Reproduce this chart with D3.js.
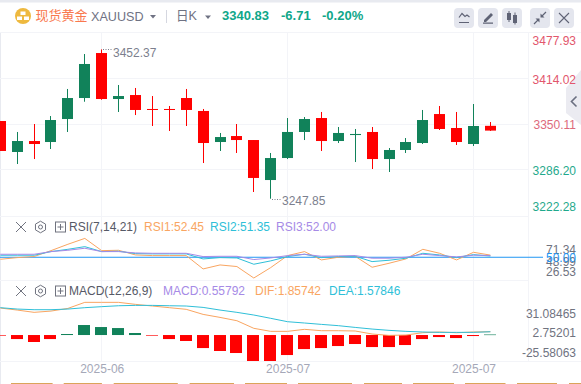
<!DOCTYPE html>
<html>
<head>
<meta charset="utf-8">
<script src="https://cdn.jsdelivr.net/npm/d3@7"></script>
<style>
  html, body { margin: 0; padding: 0; background: #fff; overflow: hidden; }
  svg { display: block; font-family: "Liberation Sans", "Noto Sans CJK SC", sans-serif; }
</style>
</head>
<body>
<div id="chart"></div>
<script>
const openPrices = [3354.3,3310.8,3326.2,3324.8,3357.1,3386.6,3449.8,3385.2,3390.8,3371.2,3371.2,3386.6,3368.4,3324.8,3333.2,3327.6,3271.4,3302.3,3338.9,3358.5,3326.2,3334.6,3338.9,3300.9,3313.6,3323.4,3364.1,3344.5,3322.0,3347.54];
const closePrices = [3312.2,3326.2,3322.0,3355.7,3386.6,3434.4,3385.2,3389.4,3369.8,3369.8,3369.8,3369.8,3323.4,3331.8,3327.6,3274.3,3302.3,3338.9,3357.1,3326.2,3337.5,3336.1,3300.9,3313.6,3324.8,3355.7,3343.1,3324.8,3347.3,3340.83];
const highPrices = [3354.3,3338.9,3350.1,3361.3,3399.3,3448.4,3454.9,3404.9,3400.7,3389.4,3375.4,3399.3,3371.2,3337.5,3350.1,3327.6,3309.4,3358.5,3359.9,3367.0,3345.9,3343.1,3345.9,3316.4,3330.4,3369.8,3375.4,3367.0,3378.2,3352.9];
const lowPrices = [3312.2,3293.9,3300.9,3315.0,3338.9,3381.4,3384.2,3367.0,3362.7,3347.3,3340.3,3347.3,3295.3,3312.2,3309.4,3254.6,3245.2,3300.9,3327.6,3312.2,3323.4,3296.7,3286.9,3282.7,3309.4,3322.0,3341.7,3320.6,3319.2,3340.3];

const rsi1 = [47.7,49.6,50.8,57.5,64.7,71.34,57.5,57.9,52.6,51.9,51.9,51.9,36.8,41.3,39.5,26.53,38.3,51.9,56.4,47.0,50.0,51.1,38.7,43.2,48.1,59.0,54.5,47.0,55.6,52.45];
const rsi2 = [52.3,52.3,52.3,56.4,59.0,62.0,56.4,56.8,54.1,53.8,53.8,53.8,48.1,49.6,49.2,42.1,45.9,50.8,53.4,49.6,50.8,51.1,45.1,46.6,48.9,54.5,52.6,49.6,53.0,51.35];
const rsi3 = [53.4,53.4,53.4,56.4,57.9,60.2,56.4,56.4,54.9,54.5,54.5,54.5,50.8,51.1,51.1,47.4,49.2,51.9,53.4,51.1,51.5,51.9,48.9,48.9,50.0,53.4,51.9,50.4,52.3,52.0];

const macdHist = [-0.7,-4.4,-7.6,-4.4,1.1,10.9,8.7,7.6,2.2,-0.7,-4.4,-6.5,-14.2,-17.4,-19.6,-28.3,-28.3,-21.8,-15.3,-14.2,-12.0,-9.8,-13.1,-13.1,-10.9,-4.4,-2.2,-3.3,-1.1,0.56];
const difLine = [29.4,27.2,24.7,26.1,29.0,35.6,35.6,35.6,33.4,31.6,29.8,28.0,22.5,19.2,15.6,7.3,4.0,4.0,6.2,4.7,4.7,4.4,1.1,-0.4,0.0,2.5,3.3,2.5,3.3,3.6];
const deaLine = [29.8,28.3,27.6,27.6,28.3,29.8,30.9,31.9,32.3,32.3,31.9,31.6,30.1,27.2,24.7,21.8,18.2,14.5,13.1,11.6,10.2,8.3,6.5,5.1,4.0,3.3,2.9,2.9,2.9,3.6];

const priceTicks = [3477.93,3414.02,3350.11,3286.20,3222.28];
const rsiTicks = [71.34,48.99,26.53,50.00];
const macdTicks = [31.08465,2.75201,-25.58063];
const monthTickIdx = [6,17,28];
const monthTickLabels = ["2025-06","2025-07","2025-07"];
const footerSegments = [[11,52.6],[63.7,101.9],[113.7,177.8],[189.6,234],[245,287],[298,352],[364,402],[413,454],[465,505.5],[517,557],[569,581]];

const W = 581, H = 384, axisX = 528.5, labelRight = 576;
const red = "#ff0000", green = "#11825a", gridCol = "#f3f4f8";
const orange = "#f9a561", cyan = "#2fbfd8", purple = "#a68ae6", blue = "#2196f3";

const svg = d3.select("#chart").append("svg").attr("width", W).attr("height", H);

const x = d3.scaleLinear().domain([0, 29]).range([0.3, 490.4]);
const priceY = d3.scaleLinear().domain([3477.93, 3222.28]).range([33, 215]);
const rsiY = d3.scaleLinear().domain([71.34, 26.53]).range([238.4, 278]);
const macdY = d3.scaleLinear().domain([31.08, -28.3]).range([306.5, 361]);
const idx = d3.range(openPrices.length);

// frame
svg.append("rect").attr("width", W).attr("height", 2.5).attr("fill", "#e8eaf0");
svg.append("rect").attr("y", 33).attr("width", 1).attr("height", H - 33).attr("fill", "#e8eaf0");
[32.5, 216.5, 280.5, 361.5].forEach(yy => {
  svg.append("line").attr("x1", 0).attr("x2", yy === 32.5 || yy === 361.5 ? W : axisX)
    .attr("y1", yy).attr("y2", yy).attr("stroke", gridCol);
});
svg.append("line").attr("x1", axisX).attr("x2", axisX).attr("y1", 33).attr("y2", 361).attr("stroke", gridCol);

// collapse tab
svg.append("path").attr("d", "M566,88L581,70V125L566,113Z").attr("fill", "#ebebf1");
svg.append("path").attr("d", "M576.5,96.5L571.5,101.5L576.5,106.5").attr("fill", "none").attr("stroke", "#6b6f80").attr("stroke-width", 1.6);

// vertical grid + month labels
const xAxis = d3.axisBottom(x).tickValues(monthTickIdx).tickFormat((d, i) => monthTickLabels[i]).tickSize(0);
svg.append("g").attr("transform", "translate(0,362)").call(xAxis)
  .call(g => g.select(".domain").remove())
  .call(g => g.selectAll("text").attr("fill", "#a5a8b8").style("font-size", "12px").style("font-family", "inherit").attr("y", 2));
svg.append("g").selectAll("line").data(monthTickIdx).join("line")
  .attr("x1", d => Math.floor(x(d)) + 0.5).attr("x2", d => Math.floor(x(d)) + 0.5)
  .attr("y1", 33).attr("y2", 361).attr("stroke", gridCol);

// price grid
svg.append("g").selectAll("line").data(priceTicks.slice(1, 4)).join("line")
  .attr("x1", 0).attr("x2", axisX)
  .attr("y1", d => Math.round(priceY(d)) + 0.5).attr("y2", d => Math.round(priceY(d)) + 0.5)
  .attr("stroke", gridCol);

function drawAxis(scale, values, lo, hi, shift, fmt, col) {
  svg.append("g").attr("transform", `translate(${labelRight},0)`)
    .call(d3.axisRight(scale).tickValues(values).tickSize(0).tickFormat(fmt))
    .call(g => g.select(".domain").remove())
    .call(g => g.selectAll("text")
      .attr("x", 0).attr("text-anchor", "end")
      .attr("y", d => Math.min(hi, Math.max(lo, scale(d))) - scale(d) + shift(d))
      .attr("fill", col)
      .style("font-size", "12px").style("font-family", "inherit"));
}
drawAxis(priceY, priceTicks, 39.5, 206, () => 1, d => d.toFixed(2), d => d > 3400 ? "#e2566c" : d > 3300 ? "#dd6a7c" : "#1fa98c");

// candles
const candles = svg.append("g");
candles.selectAll(".wick").data(idx).join("rect")
  .attr("x", i => Math.floor(x(i))).attr("width", 1)
  .attr("y", i => priceY(highPrices[i]))
  .attr("height", i => priceY(lowPrices[i]) - priceY(highPrices[i]))
  .attr("fill", i => closePrices[i] < openPrices[i] ? red : green);
candles.selectAll(".body").data(idx).join("rect")
  .attr("x", i => Math.floor(x(i)) - 5).attr("width", 11)
  .attr("y", i => priceY(Math.max(openPrices[i], closePrices[i])))
  .attr("height", i => Math.max(1, Math.abs(priceY(openPrices[i]) - priceY(closePrices[i]))))
  .attr("fill", i => closePrices[i] < openPrices[i] ? red : green);

// high / low notes
const notes = [{ i: 6, p: highPrices[6], t: "3452.37" }, { i: 16, p: lowPrices[16], t: "3247.85" }];
notes.forEach(n => {
  const nx = Math.floor(x(n.i)) + 1, ny = Math.round(priceY(n.p)) + 0.5;
  svg.append("line").attr("x1", nx + 1).attr("x2", nx + 10).attr("y1", ny).attr("y2", ny)
    .attr("stroke", "#7c7f8e").attr("stroke-dasharray", "1,1.5");
  svg.append("text").attr("x", nx + 11).attr("y", ny + (n.i === 6 ? 7 : 5))
    .attr("fill", "#7c7f8e").style("font-size", "12px").text(n.t);
});

// RSI
svg.append("line").attr("x1", 0).attr("x2", 543).attr("y1", rsiY(50)).attr("y2", rsiY(50))
  .attr("stroke", blue).attr("stroke-width", 1);
const rsiLine = d3.line().x((d, i) => x(i)).y(d => rsiY(d));
[[rsi1, orange], [rsi2, cyan], [rsi3, purple]].forEach(([vals, col]) => {
  svg.append("path").datum(vals).attr("d", rsiLine).attr("fill", "none").attr("stroke", col).attr("stroke-width", 1);
});
// 48.99 sits a little under the 50 line label in the original
drawAxis(rsiY, rsiTicks, 249.5, 271.5, d => d === 48.99 ? 3.5 : 0.5, d => d.toFixed(2), d => d === 50 ? blue : "#70737f");

// MACD
svg.append("g").selectAll("rect").data(macdHist).join("rect")
  .attr("x", (d, i) => Math.floor(x(i)) - 6).attr("width", 12)
  .attr("y", d => Math.min(macdY(d), macdY(0)))
  .attr("height", d => Math.max(0.6, Math.abs(macdY(d) - macdY(0))))
  .attr("fill", d => d < 0 ? red : green);
const macdLine = d3.line().x((d, i) => x(i)).y(d => macdY(d));
[[difLine, orange], [deaLine, cyan]].forEach(([vals, col]) => {
  svg.append("path").datum(vals).attr("d", macdLine).attr("fill", "none").attr("stroke", col).attr("stroke-width", 1);
});
drawAxis(macdY, macdTicks, 313.5, 352.5, () => 0, d => d.toFixed(5), () => "#70737f");

// footer strip cut off by the window
svg.append("g").selectAll("rect").data(footerSegments).join("rect")
  .attr("x", d => d[0]).attr("width", d => d[1] - d[0]).attr("y", 383).attr("height", 1).attr("fill", "#dba45a");

// header
const logo = svg.append("g").attr("transform", "translate(23,16)");
logo.append("circle").attr("r", 8).attr("fill", "#eeb93f");
[[-2.5, -4.5], [-6, 0.5], [1, 0.5]].forEach(p => {
  logo.append("rect").attr("x", p[0]).attr("y", p[1]).attr("width", 5).attr("height", 3.5).attr("fill", "#fff");
});
function label(tx, ty, text, col, size, weight) {
  return svg.append("text").attr("x", tx).attr("y", ty).attr("fill", col)
    .style("font-size", size + "px").style("font-weight", weight || "normal").text(text);
}
label(35.5, 20, "现货黄金", "#f9784e", 13);
label(91, 21, "XAUUSD", "#6f7283", 12.6);
svg.append("path").attr("d", "M150,15h6l-3,3.5z").attr("fill", "#6f7283");
svg.append("line").attr("x1", 166.5).attr("x2", 166.5).attr("y1", 10).attr("y2", 23).attr("stroke", "#d5d7e0");
label(176, 20, "日K", "#6f7283", 12.6);
svg.append("path").attr("d", "M205,15.5h6l-3,3.5z").attr("fill", "#6f7283");
label(222, 20, "3340.83", "#10a78a", 13, "bold");
label(281, 20, "-6.71", "#10a78a", 13, "bold");
label(322, 20, "-0.20%", "#10a78a", 13, "bold");

// toolbar buttons
const btnX = [454, 478, 502, 530, 554];
svg.append("g").selectAll("rect").data(btnX).join("rect")
  .attr("x", d => d).attr("y", 8).attr("width", 20).attr("height", 20).attr("rx", 4).attr("fill", "#e4e6ee");
const ink = "#5f6375";
svg.append("path").attr("d", "M459,17.5l3,-4l3,3l2,-1.5l2.5,2M459,22.5h10").attr("fill", "none").attr("stroke", ink).attr("stroke-width", 1.2);
svg.append("path").attr("d", "M483,22.5h10v1.2h-10zM484,20l7,-7l2,2l-7,7h-2z").attr("fill", ink);
svg.append("path").attr("d", "M507,13h4v7h-4zM513,15h4v8h-4zM508.5,11h1v11h-1zM514.5,12.5h1v12h-1z").attr("fill", ink);
svg.append("path").attr("d", "M534,24l4.5,-4.5M541.5,16.5l4.5,-4.5").attr("fill", "none").attr("stroke", ink).attr("stroke-width", 1.2);
svg.append("path").attr("d", "M535.5,18.5h4v4zM540.5,17.5v-4l4,4z").attr("fill", ink);
svg.append("path").attr("d", "M559,13l10,10M569,13l-10,10").attr("fill", "none").attr("stroke", ink).attr("stroke-width", 1.1);

// indicator rows
function indicatorIcons(cy) {
  const col = "#70737f";
  svg.append("path").attr("d", `M16,${cy - 5}l10,10M26,${cy - 5}l-10,10`).attr("fill", "none").attr("stroke", col);
  const hex = d3.range(6).map(k => {
    const a = Math.PI / 6 + k * Math.PI / 3;
    return [40.5 + 5.8 * Math.cos(a), cy + 5.8 * Math.sin(a)];
  });
  svg.append("path").attr("d", d3.line()(hex) + "Z").attr("fill", "none").attr("stroke", col);
  svg.append("circle").attr("cx", 40.5).attr("cy", cy).attr("r", 2).attr("fill", "none").attr("stroke", col);
  svg.append("rect").attr("x", 55.5).attr("y", cy - 5).attr("width", 10).attr("height", 10).attr("fill", "none").attr("stroke", col);
  svg.append("path").attr("d", `M57.5,${cy}h6M60.5,${cy - 3}v6`).attr("fill", "none").attr("stroke", col);
}
indicatorIcons(227);
indicatorIcons(291);
label(69, 231, "RSI(7,14,21)", "#565966", 12);
label(144, 231, "RSI1:52.45", orange, 12);
label(210, 231, "RSI2:51.35", cyan, 12);
label(276, 231, "RSI3:52.00", purple, 12);
label(69, 295, "MACD(12,26,9)", "#565966", 12);
label(163, 295, "MACD:0.55792", purple, 12);
label(255, 295, "DIF:1.85742", orange, 12);
label(329, 295, "DEA:1.57846", cyan, 12);
</script>
</body>
</html>
